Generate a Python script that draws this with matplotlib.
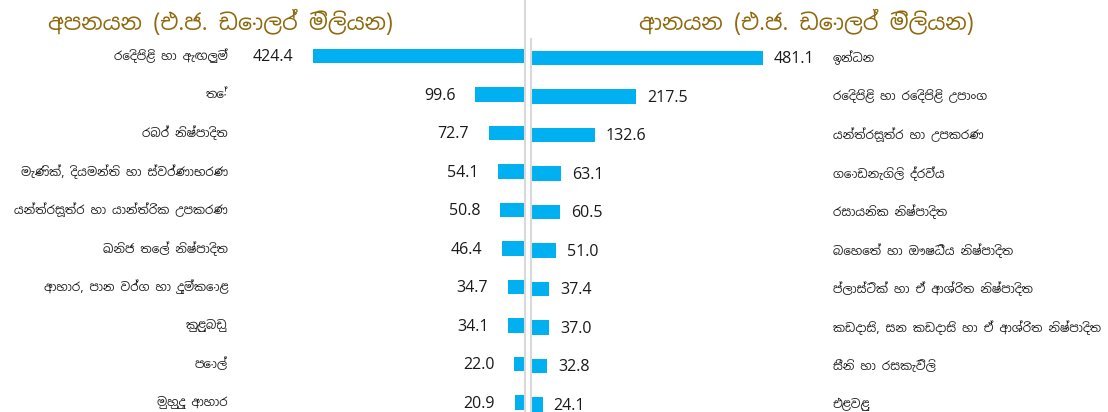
import matplotlib
matplotlib.use("Agg")
import matplotlib.pyplot as plt
import matplotlib.transforms as mtransforms
from matplotlib import font_manager
from matplotlib.ft2font import FT2Font
from matplotlib.lines import Line2D

# exports (left side)
export_names = ["රෙදිපිළි හා ඇඟලුම්", "තේ", "රබර් නිෂ්පාදිත",
                "මැණික්, දියමන්ති හා ස්වර්ණාභරණ",
                "යන්ත්‍රසූත්‍ර හා යාන්ත්‍රික උපකරණ", "ඛනිජ තෙල් නිෂ්පාදිත",
                "ආහාර, පාන වර්ග හා දුම්කොළ", "කුළුබඩු", "පොල්", "මුහුදු ආහාර"]
export_values = [424.4, 99.6, 72.7, 54.1, 50.8, 46.4, 34.7, 34.1, 22.0, 20.9]

# imports (right side)
import_names = ["ඉන්ධන", "රෙදිපිළි හා රෙදිපිළි උපාංග", "යන්ත්‍රසූත්‍ර හා උපකරණ",
                "ගොඩනැගිලි ද්‍රව්‍ය", "රසායනික නිෂ්පාදිත", "බෙහෙත් හා ඖෂධීය නිෂ්පාදිත",
                "ප්ලාස්ටික් හා ඒ ආශ්‍රිත නිෂ්පාදිත",
                "කඩදාසි, සන කඩදාසි හා ඒ ආශ්‍රිත නිෂ්පාදිත",
                "සීනි හා රසකැවිලි", "එළවළු"]
import_values = [481.1, 217.5, 132.6, 63.1, 60.5, 51.0, 37.4, 37.0, 32.8, 24.1]

left_title = "අපනයන (එ.ජ. ඩොලර් මිලියන)"
right_title = "ආනයන (එ.ජ. ඩොලර් මිලියන)"

BAR = "#00B0F0"
GOLD = "#8E6A0E"
GRID = "#D9D9D9"


def sinhala_fonts():
    # look for any installed font that actually carries sinhala glyphs
    found = []
    for fe in font_manager.fontManager.ttflist:
        try:
            if 0x0D85 in FT2Font(fe.fname).get_charmap() and fe.name not in found:
                found.append(fe.name)
        except Exception:
            pass
    # sans faces first
    found.sort(key=lambda s: 0 if "Sans" in s else 1)
    return found


def show(s):
    # no text shaping here, so the zero width joiner would only draw a box
    return s.replace("\u200d", "")


fams = sinhala_fonts() + ["Open Sans", "DejaVu Sans"]
plt.rcParams["font.family"] = fams

W, H = 1108, 412
fig = plt.figure(figsize=(W / 100, H / 100), dpi=100)

step = 38.5  # px between rows
n = len(export_values)
rows = list(range(n))

# left axes: spine at x=525, full height, first row centre at y=56
lx0, lx1 = 240, 525
ax_l = fig.add_axes([lx0 / W, 0, (lx1 - lx0) / W, 1])
l_scale = 0.4995  # px per unit
ax_l.set_xlim((lx1 - lx0) / l_scale, 0)
ax_l.set_ylim((H - 56) / step, -56 / step)

# right axes: spine at x=531, starts at y=39, first row centre at y=58
rx0, rx1 = 531, W
ax_r = fig.add_axes([rx0 / W, 0, (rx1 - rx0) / W, (H - 39) / H])
r_scale = 0.482
ax_r.set_xlim(0, (rx1 - rx0) / r_scale)
ax_r.set_ylim((H - 58) / step, (39 - 58) / step)

for ax in (ax_l, ax_r):
    ax.set_axis_off()

ax_l.barh(rows, export_values, height=0.377, color=BAR)
ax_r.barh(rows, import_values, height=0.377, color=BAR)

# axis lines drawn as figure lines
fig.add_artist(Line2D([lx1 / W, lx1 / W], [0, 1], color=GRID, lw=1.5))
fig.add_artist(Line2D([rx0 / W, rx0 / W], [0, (H - 39) / H], color=GRID, lw=1.5))

num_font = {"family": ["Open Sans", "DejaVu Sans"], "size": 11.5, "color": "#1a1a1a"}
for i, v in enumerate(export_values):
    ax_l.annotate(f"{v:.1f}", (v, i), xytext=(-14, -1), textcoords="offset points",
                  ha="right", va="center", **num_font)
for i, v in enumerate(import_values):
    ax_r.annotate(f"{v:.1f}", (v, i), xytext=(8, -1), textcoords="offset points",
                  ha="left", va="center", **num_font)

tl = mtransforms.blended_transform_factory(fig.transFigure, ax_l.transData)
tr = mtransforms.blended_transform_factory(fig.transFigure, ax_r.transData)
for i, name in enumerate(export_names):
    fig.text(228 / W, i, show(name), transform=tl, ha="right", va="center",
             fontsize=8.6, color="#222222")
for i, name in enumerate(import_names):
    fig.text(833 / W, i, show(name), transform=tr, ha="left", va="center",
             fontsize=8.6, color="#222222")

fig.text(221 / W, 1 - 22 / H, show(left_title), ha="center", va="center",
         fontsize=16, fontweight="bold", color=GOLD)
fig.text(806 / W, 1 - 22 / H, show(right_title), ha="center", va="center",
         fontsize=16, fontweight="bold", color=GOLD)

fig.savefig("out.png", dpi=100, facecolor="white")
